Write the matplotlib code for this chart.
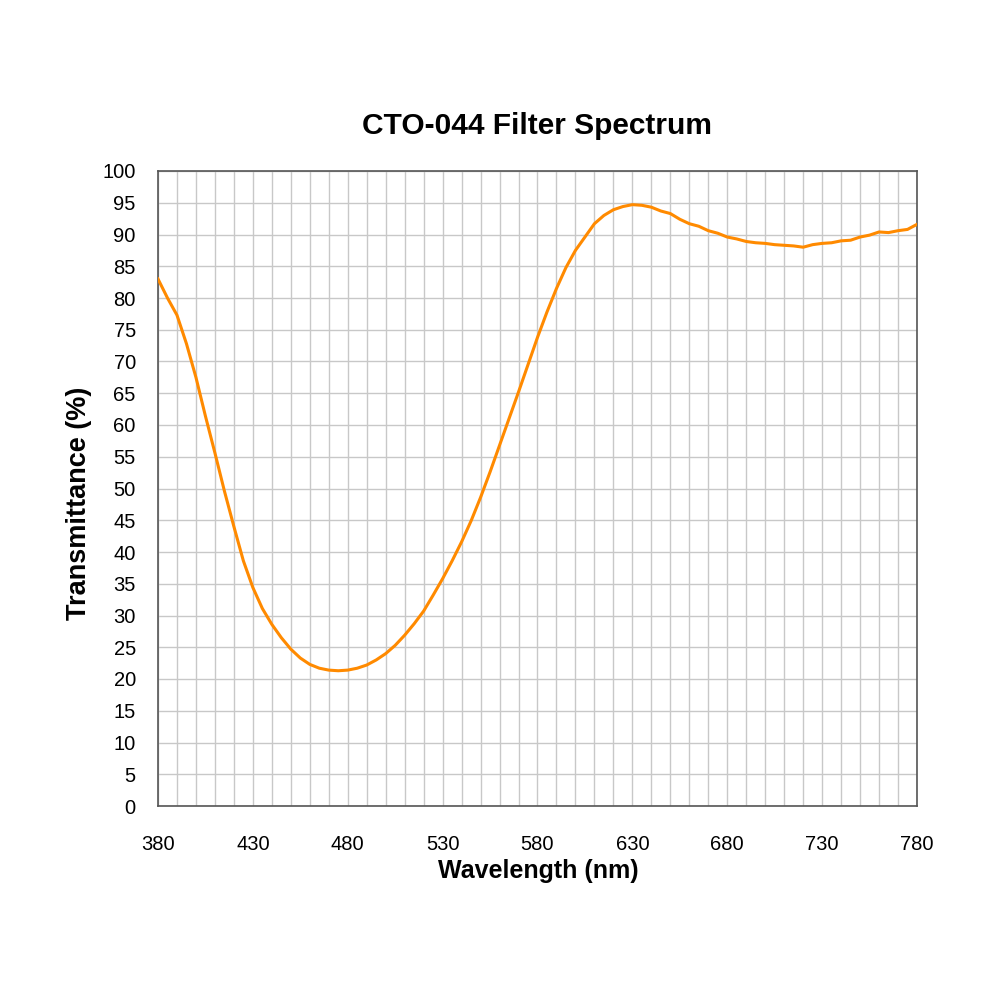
import matplotlib

matplotlib.use("Agg")

import matplotlib.pyplot as plt  # noqa: E402
from matplotlib.ticker import MultipleLocator  # noqa: E402

plt.rcParams["font.family"] = ["Liberation Sans", "DejaVu Sans"]

# wavelength in nm, 5 nm steps
wavelength = list(range(380, 785, 5))
transmittance = [
    83.0, 80.0, 77.3, 72.8, 67.5, 61.4, 55.6, 49.6, 44.0, 38.6,
    34.4, 31.1, 28.6, 26.5, 24.7, 23.3, 22.3, 21.7, 21.4, 21.3,
    21.4, 21.7, 22.2, 23.0, 24.0, 25.3, 26.9, 28.7, 30.7, 33.2,
    35.8, 38.6, 41.6, 44.9, 48.6, 52.6, 56.8, 61.0, 65.2, 69.5,
    73.8, 77.8, 81.5, 84.8, 87.5, 89.6, 91.7, 93.0, 93.9, 94.4,
    94.7, 94.6, 94.3, 93.7, 93.3, 92.4, 91.7, 91.3, 90.6, 90.2,
    89.6, 89.3, 88.9, 88.7, 88.6, 88.4, 88.3, 88.2, 88.0, 88.4,
    88.6, 88.7, 89.0, 89.1, 89.6, 89.9, 90.4, 90.3, 90.6, 90.8,
    91.6,
]
x_ticks = list(range(380, 781, 50))
y_ticks = list(range(0, 101, 5))

fig = plt.figure(figsize=(10, 10), dpi=100)
ax = fig.add_axes([0.158, 0.194, 0.759, 0.635])

ax.plot(wavelength, transmittance, color="#FF8A00", linewidth=2.2, zorder=3)

ax.set_xlim(380, 780)
ax.set_ylim(0, 100)
ax.set_xticks(x_ticks)
ax.set_yticks(y_ticks)
ax.xaxis.set_minor_locator(MultipleLocator(10))
ax.grid(which="both", color="#c8c8c8", linewidth=1.0)
ax.tick_params(which="both", length=0)
ax.tick_params(axis="x", pad=21, labelsize=14.5)
ax.tick_params(axis="y", pad=16, labelsize=14.5)
for s in ax.spines.values():
    s.set_color("#555555")
    s.set_linewidth(1.2)

fig.text(0.538, 0.129, "Wavelength (nm)", fontsize=18, fontweight="bold",
         ha="center", va="center")
fig.text(0.079, 0.497, "Transmittance (%)", fontsize=19.5, fontweight="bold",
         ha="center", va="center", rotation=90)
fig.text(0.537, 0.874, "CTO-044 Filter Spectrum", fontsize=21.5,
         fontweight="bold", ha="center", va="center")

fig.savefig("out.png", dpi=100, facecolor="white")
plt.close(fig)
